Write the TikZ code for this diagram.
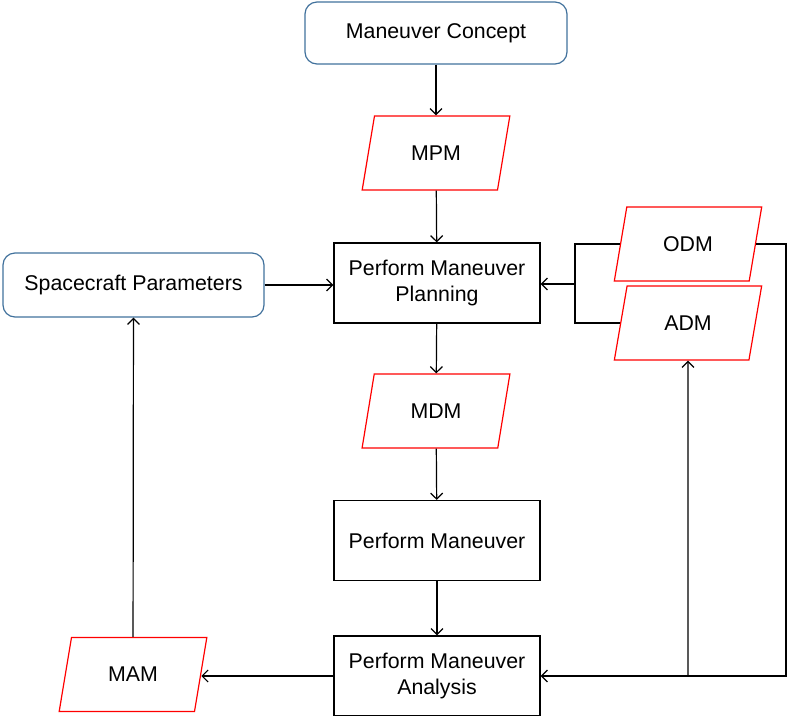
\documentclass[tikz,border=0pt]{standalone}
\usepackage{fontspec}
\setmainfont{Liberation Sans}
\usetikzlibrary{shapes.geometric,arrows.meta}
\definecolor{frameblue}{RGB}{65,113,156}

\begin{document}
\begin{tikzpicture}[x=0.75pt,y=-0.75pt,line width=0.9pt,
		>={Straight Barb[length=4.5pt,width=9pt]},
		font=\fontsize{16}{19.5}\selectfont]

		\tikzset{source/.style={draw=frameblue,rounded corners=9pt,align=center},
			process/.style={draw,minimum width=206*0.75pt,minimum height=80*0.75pt,align=center},
			datafile/.style={draw=red,trapezium,trapezium left angle=76,trapezium right angle=104,
				trapezium stretches=true,minimum width=148*0.75pt,minimum height=74*0.75pt}}
		\useasboundingbox (0,0) rectangle (788,715);

	    \node[source,minimum width=262*0.75pt,minimum height=62*0.75pt] (concept) at (436,33) {Maneuver Concept};
	    \node[datafile] (mpm) at (436,153) {MPM};
	    \node[process] (plan) at (437,283) {Perform Maneuver\\Planning};
	    \node[source,minimum width=261*0.75pt,minimum height=64*0.75pt] (sc) at (133.5,285) {Spacecraft Parameters};
	    \node[datafile] (odm) at (688,244) {ODM};
	    \node[datafile] (adm) at (688,323) {ADM};
	    \node[datafile] (mdm) at (436,411) {MDM};
	    \node[process] (perf) at (437,540.5) {Perform Maneuver};
	    \node[process] (ana) at (437,676) {Perform Maneuver\\Analysis};
	    \node[datafile] (mam) at (133,674.5) {MAM};

	    \coordinate (bus) at (575,284);
	    \coordinate (rt) at (786,676);
	    \coordinate (tap) at (688,676);

	    \draw[->] (concept) -- (mpm);
	    \draw[->] (mpm) -- (plan);
	    \draw[->] (sc.east) -- (sc.east -| plan.west);
	    \draw (odm.west) -| (bus) |- (adm.west);
	    \draw[->] (bus) -- (bus -| plan.east);
	    \draw[->] (plan) -- (mdm);
	    \draw[->] (mdm) -- (perf);
	    \draw[->] (perf) -- (ana);
	    \draw[->] (ana.west) -- (ana.west -| mam.east);
	    \draw[->] (mam) -- (sc);
	    \draw[->] (odm.east) -| (rt) -- (rt -| ana.east);
	    \draw[->] (tap) -- (adm.south);

	\end{tikzpicture}
\end{document}
